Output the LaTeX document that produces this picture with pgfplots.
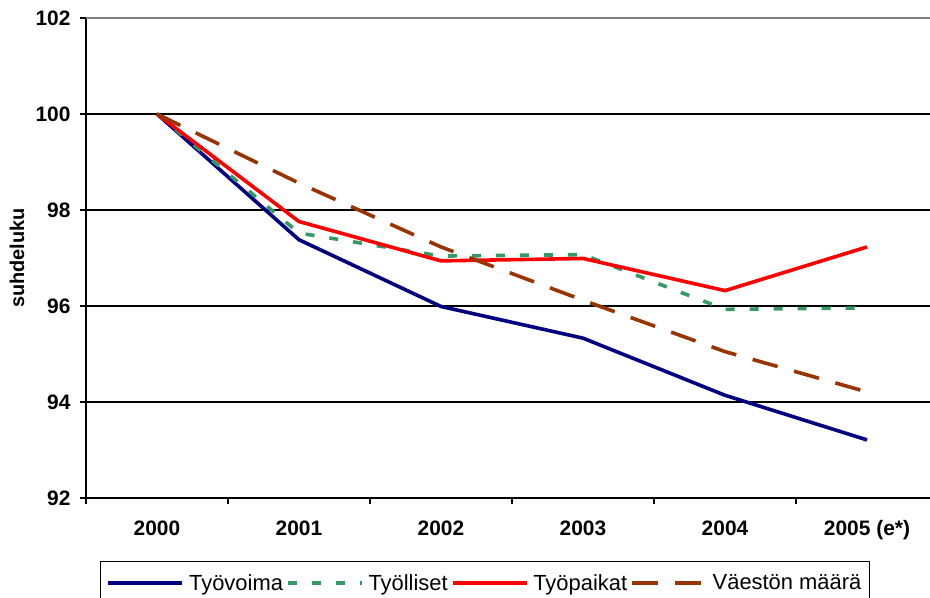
\documentclass[border=0pt]{standalone}
\usepackage{fontspec}
\setmainfont{Liberation Sans}
\usepackage{pgfplots}
\pgfplotsset{compat=1.18}

\definecolor{tyovoima}{RGB}{0,0,128}
\definecolor{tyolliset}{RGB}{51,153,102}
\definecolor{tyopaikat}{RGB}{255,0,0}
\definecolor{vaesto}{RGB}{153,51,0}

\begin{document}
\begin{tikzpicture}
\useasboundingbox (0bp,0bp) rectangle (930bp,598bp);
\begin{axis}[
    at={(86bp,100bp)}, anchor=south west,
    scale only axis,
    width=852bp, height=480bp,
    xmin=-0.5, xmax=5.5,
    ymin=92, ymax=102,
    axis x line*=bottom, axis y line*=left,
    axis line style={black, line width=1.5pt, -},
    /pgf/number format/assume math mode=true,
    xtick={0,1,2,3,4,5},
    xticklabels={2000,2001,2002,2003,2004,2005 (e*)},
    minor xtick={-0.5,0.5,...,5.5},
    major x tick style={draw=none},
    minor x tick style={black, line width=1.5pt},
    ytick={92,94,96,98,100},
    extra y ticks={102},
    extra y tick style={grid style={color=gray, line width=1.8pt}},
    ymajorgrids,
    grid style={black, line width=1.2pt},
    ytick style={black, line width=1.5pt},
    tick align=outside,
    major tick length=6bp, minor tick length=6bp,
    xticklabel style={font=\bfseries\fontsize{21}{24}\selectfont, yshift=-13bp},
    yticklabel style={font=\bfseries\fontsize{21}{24}\selectfont, xshift=-6bp},
    ylabel={suhdeluku},
    every axis y label/.style={at={(axis description cs:-0.081,0.5)}, rotate=90, anchor=center,
        font=\bfseries\fontsize{20}{24}\selectfont},
    legend columns=4,
    legend image code/.code={\draw[#1] (0bp,0bp) -- (74bp,0bp);},
    legend style={
        at={(axis description cs:0.0164,-0.131)}, anchor=north west,
        draw=black, line width=1.2pt,
        font=\fontsize{22}{26}\selectfont,
        inner xsep=6bp, inner ysep=11bp,
        /tikz/every even column/.append style={column sep=1bp},
        /tikz/every odd column/.append style={column sep=3bp},
    },
]
\addplot[tyovoima, line width=3.6bp] coordinates {
    (0,100) (1,97.38) (2,95.99) (3,95.33) (4,94.14) (5,93.21)
};
\addlegendentry{Työvoima}
\addplot[tyolliset, line width=3.6bp, dash pattern=on 9bp off 15bp] coordinates {
    (0,100) (1,97.52) (2,97.04) (3,97.07) (4,95.93) (5,95.96)
};
\addlegendentry{Työlliset}
\addplot[tyopaikat, line width=3.6bp] coordinates {
    (0,100) (1,97.76) (2,96.94) (3,96.99) (4,96.32) (5,97.23)
};
\addlegendentry{Työpaikat}
\addplot[vaesto, line width=3.6bp, dash pattern=on 26bp off 17bp] coordinates {
    (0,100) (1,98.56) (2,97.23) (3,96.12) (4,95.05) (5,94.21)
};
\addlegendentry{Väestön määrä}
\end{axis}
\end{tikzpicture}
\end{document}
